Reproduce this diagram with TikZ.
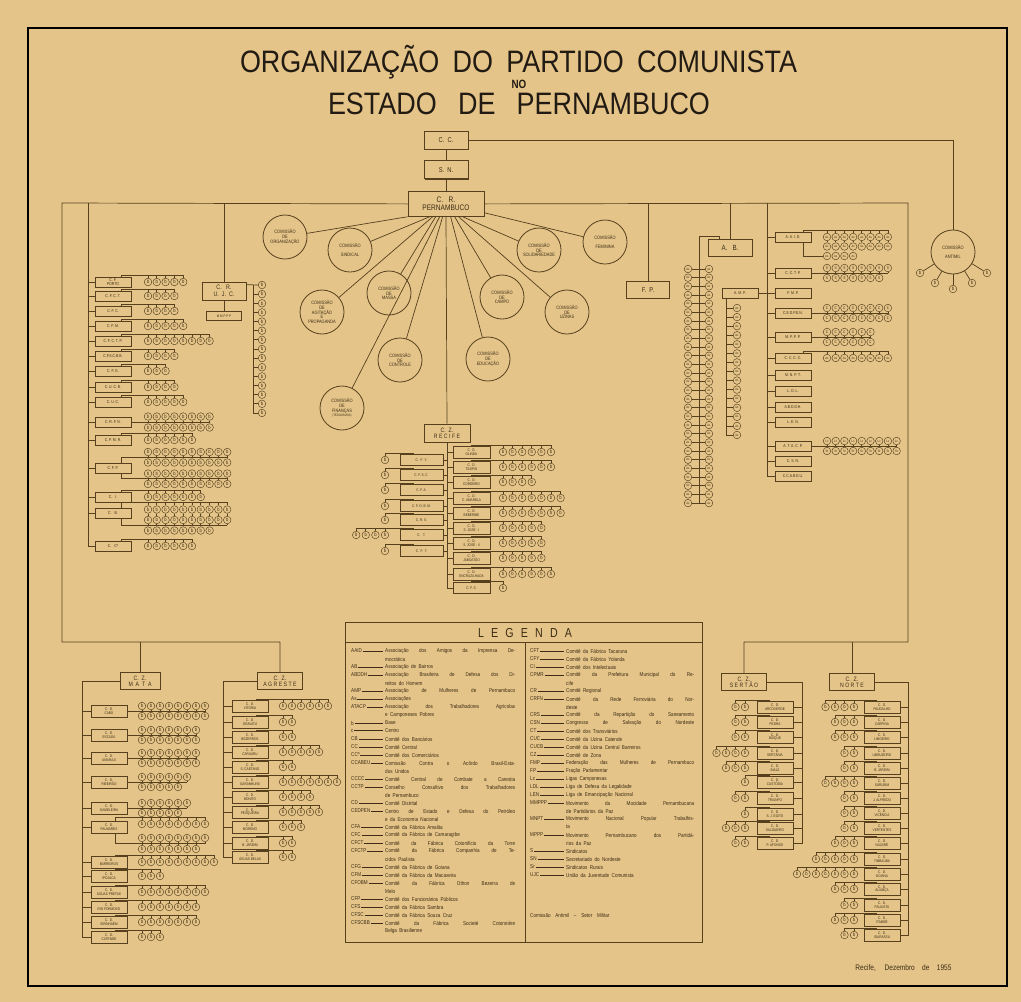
\documentclass[tikz,border=0pt]{standalone}
\usepackage{fontspec}
\setmainfont{Liberation Sans}[FakeStretch=0.82]
\newfontfamily\titlefont{Liberation Sans}[FakeStretch=0.87]
\usetikzlibrary{positioning, calc, shadows}

\definecolor{paper}{RGB}{228,196,136}
\definecolor{ink}{RGB}{86,64,30}
\definecolor{inktext}{RGB}{60,44,22}
\definecolor{titleink}{RGB}{34,27,20}

\newcommand{\fsz}[1]{\fontsize{#1}{#1}\selectfont}
\newcommand{\ldash}{\leaders\hrule height 2.1pt depth -1.6pt\hfill}

% rows and columns of small circles, and their combs
\newcommand{\brow}[6]{\foreach \i in {1,...,#4}{\node[bnode] (#1-\i) at ({#2+(\i-1)*#5},#3) {#6};}}
\newcommand{\bcol}[6]{\foreach \i in {1,...,#4}{\node[bnode] (#1-\i) at (#2,{#3+(\i-1)*#5}) {#6};}}
\newcommand{\comb}[4]{%
  \draw[wire] (#1) |- ($(#2-#4.north)+(0,-3)$) -- (#2-#4.north);
  \foreach \i in {1,...,#3}{\draw[wire] (#2-\i.north) -- ++(0,-3);}}
\newcommand{\pairline}[5]{%
  \path ($(#2-1.south)!0.5!(#3-1.north)$) coordinate (pm);
  \draw[wire] (#1) |- (pm -| #2-#4);
  \foreach \i in {1,...,#4}{\draw[wire] (#2-\i.south) -- (#2-\i.south |- pm);}
  \foreach \i in {1,...,#5}{\draw[wire] (#3-\i.north) -- (#3-\i.north |- pm);}}

\tikzset{
  wire/.style={draw=ink, line width=0.7pt},
  unit/.style={draw=ink, fill=paper, line width=0.7pt,
    minimum width=36pt, minimum height=10pt, inner sep=0pt,
    text=inktext, font=\fsz{4.2}, align=center,
    drop shadow={shadow xshift=0.8pt, shadow yshift=-0.8pt, fill=ink, opacity=1}},
  cdbox/.style={unit, minimum height=12pt, font=\fsz{3.8}},
  zonebox/.style={unit, minimum width=44pt, minimum height=17pt, font=\fsz{6.3}},
  topbox/.style={unit, minimum width=44pt, minimum height=18pt, font=\fsz{7}},
  comm/.style={circle, draw=ink, line width=0.8pt, minimum size=44pt,
    inner sep=0pt, text=inktext, font=\fsz{4.8}, align=center},
  bnode/.style={circle, draw=ink, fill=paper, line width=0.45pt,
    minimum size=7.6pt, inner sep=0pt, text=inktext, font=\fsz{5}},
  legtxt/.style={anchor=west, inner sep=0pt, text=inktext,
    font={\fsz{5.6}\spaceskip=2.4pt plus 3pt}},
}

\begin{document}
\begin{tikzpicture}[x=1pt, y=-1pt]
% paper and frame
\fill[paper] (0,0) rectangle (1021,1002);
\draw[line width=2.8pt] (28,28) rectangle (1007,986);

% title
\node[text=titleink, font=\titlefont\fsz{31}] (title) at (518.5,62)
  {\makebox[557pt][s]{ORGANIZAÇÃO DO PARTIDO COMUNISTA}};
\node[text=titleink, font=\bfseries\fsz{12}] (titleno) at (519,84) {NO};
\node[text=titleink, font=\titlefont\fsz{31}] (titlestate) at (519,104)
  {\makebox[382pt][s]{ESTADO DE PERNAMBUCO}};

% top of the party
\node[topbox] (cc) at (446,140) {C. \ C.};
\node[topbox, below=11pt of cc] (sn) {S. \ N.};
\node[topbox, minimum width=76pt, minimum height=25pt, font=\fsz{8},
      below=12pt of sn] (crpe) {C. \ \ R.\\PERNAMBUCO};
\draw[wire] (cc) -- (sn);
\draw[wire] (sn) -- (crpe);
\coordinate (tl) at (62,203);
\coordinate (tr) at (908,203);
\coordinate (bl) at (62,642);
\coordinate (br) at (908,642);

% comissao antimil
\node[comm] (antimil) at (953,252) {COMISSÃO\\[4pt]ANTIMIL};
\draw[wire] (cc.east) -| (antimil.north);
\node[bnode] (mil1) at (920,273) {b};
\node[bnode] (mil2) at (935,283) {b};
\node[bnode] (mil3) at (953,289) {b};
\node[bnode] (mil4) at (972,283) {b};
\node[bnode] (mil5) at (987,273) {b};
\foreach \k in {1,...,5}{\draw[wire] (antimil) -- (mil\k);}

% comissoes of the C.R.
\node[comm] (corg) at (285,237) {COMISSÃO\\DE\\ORGANIZAÇÃO};
\node[comm] (csind) at (350,250) {COMISSÃO\\[4pt]SINDICAL};
\node[comm] (cagit) at (322,312) {COMISSÃO\\DE\\AGITAÇÃO\\E\\PROPAGANDA};
\node[comm] (cmassa) at (389,293) {COMISSÃO\\DE\\MASSA};
\node[comm] (ccontr) at (400,360) {COMISSÃO\\DE\\CONTROLE};
\node[comm] (cfin) at (342,408) {COMISSÃO\\DE\\FINANÇAS\\{\fsz{3.3}(TEZOURARIA)}};
\node[comm] (ceduc) at (488,359) {COMISSÃO\\DE\\EDUCAÇÃO};
\node[comm] (ccampo) at (502,297) {COMISSÃO\\DE\\CAMPO};
\node[comm] (cuzin) at (567,312) {COMISSÃO\\DE\\UZINAS};
\node[comm] (csolid) at (539,250) {COMISSÃO\\DE\\SOLIDARIEDADE};
\node[comm] (cfem) at (605,242) {COMISSÃO\\[4pt]FEMININA};
\draw[wire] (crpe.south west) -- (corg);
\draw[wire] ($(crpe.south east)+(0,-4)$) -- (cfem);
\foreach \c/\dx in {csind/22, cagit/25, cmassa/28, cfin/32, ccontr/35,
                    ceduc/43, ccampo/47, cuzin/51, csolid/55}
  {\draw[wire] ($(crpe.south west)+(\dx,0)$) -- (\c);}

% C.Z. Recife
\node[zonebox, minimum width=46pt, minimum height=18pt] (czrecife) at (447,433)
  {C. \ Z.\\R E C I F E};
\draw[wire] (crpe.south) -- (czrecife.north);
\foreach \nm/\lab/\yy/\cnt in {olinda/OLINDA/452/6, tejipio/TEJIPIO/467/6,
    cordeiro/CORDEIRO/482/4, camarela/{C. AMARELA}/498/7, beberibe/BEBERIBE/513/7,
    sjosei/{S. JOSÉ - I}/528/5, sjoseii/{S. JOSÉ - II}/543/5,
    jaboatao/JABOATÃO/558/5, encruz/ENCRUZILHADA/574/6}
{
  \node[cdbox, minimum width=37pt] (\nm) at (471.5,\yy) {C. \ D.\\\lab};
  \brow{\nm-b}{503}{\yy}{\cnt}{9.6}{b}
  \comb{$(\nm.north)$}{\nm-b}{\cnt}{\cnt}
  \draw[wire] (\nm.west -| czrecife.south) -- (\nm.west);
}
\node[cdbox, minimum width=37pt, minimum height=11pt] (cfs) at (471.5,588) {C. F. S.};
\brow{cfs-b}{503}{588}{1}{9.6}{b}
\comb{$(cfs.north)$}{cfs-b}{1}{1}
\draw[wire] (czrecife.south) |- (cfs.west);
\foreach \nm/\lab/\yy/\cnt in {cfy/{C. \ F. \ Y.}/460/1, cfsc/{C. F. S. C.}/475/1,
    cfa/{C. F. A.}/490/1, cfobm/{C. F. O. B. M.}/506/1, crs/{C. R. S.}/520/1,
    ct/{C. \ \ T.}/535/4, cft/{C. \ F. \ T.}/551/1}
{
  \node[cdbox, minimum width=43pt, minimum height=11pt] (\nm) at (421.5,\yy) {\lab};
  \brow{\nm-b}{385-(\cnt-1)*9.6}{\yy}{\cnt}{9.6}{b}
  \comb{$(\nm.north)+(-8,0)$}{\nm-b}{\cnt}{1}
  \draw[wire] (\nm.east) -- (\nm.east -| czrecife.south);
}

% left column of committees
\coordinate (ltk) at (88,203);
\foreach \nm/\lab/\yy/\cnt in {cfporto/{C. F.\\[-0.6pt]PORTO}/282/5, cfct/{C. F. C. T.}/296/4,
    cfc/{C. F. C.}/311/4, cfm/{C. F. M.}/326/5, cfctp/{C. F. C. T. P.}/341/8,
    cfscbb/{C.F.S.C.B.B.}/356/4, cfg/{C. F. G.}/371/3, cucb/{C. U. C. B.}/387/4,
    cuc/{C. U. C.}/402/5, cpmr/{C. P. M. R.}/440/6, ci/{C. \ \ I.}/497/7,
    ccom/{C. \ \ Cº}/546/6}
{
  \node[unit] (\nm) at (113,\yy) {\lab};
  \brow{\nm-b}{148}{\yy}{\cnt}{8.8}{b}
  \comb{$(\nm.north)+(8,0)$}{\nm-b}{\cnt}{\cnt}
  \draw[wire] (\nm.west -| ltk) -- (\nm.west);
}
\node[unit] (crfn) at (113,422) {C. R. F. N.};
\brow{crfn-t}{148}{416.5}{8}{8.8}{b}
\brow{crfn-u}{148}{427.5}{8}{8.8}{b}
\pairline{crfn.east}{crfn-t}{crfn-u}{8}{8}
\node[unit] (cfp) at (113,468) {C. F. P.};
\brow{cfp-r1}{148}{452}{10}{8.8}{b}
\brow{cfp-r2}{148}{462.5}{10}{8.8}{b}
\brow{cfp-r3}{148}{473.5}{10}{8.8}{b}
\brow{cfp-r4}{148}{484}{10}{8.8}{b}
\pairline{$(cfp.north)+(8,0)$}{cfp-r1}{cfp-r2}{10}{10}
\pairline{$(cfp.south)+(8,0)$}{cfp-r3}{cfp-r4}{10}{10}
\node[unit] (cb) at (113,513) {C. \ \ B.};
\brow{cb-r1}{148}{509.5}{10}{8.8}{b}
\brow{cb-r2}{148}{520}{10}{8.8}{b}
\brow{cb-r3}{148}{530.5}{8}{8.8}{b}
\comb{$(cb.north)+(8,0)$}{cb-r1}{10}{10}
\pairline{$(cb.south)+(8,0)$}{cb-r2}{cb-r3}{10}{8}
\foreach \i in {1,...,10}{\draw[wire] (cb-r1-\i) -- (cb-r2-\i);}
\draw[wire] (ltk) |- (ccom.west);
\foreach \nm in {crfn, cfp, cb}{\draw[wire] (\nm.west -| ltk) -- (\nm.west);}

% C.R. U.J.C.
\node[topbox, font=\fsz{6.5}] (crujc) at (224,291) {C. \ \ R.\\U. \ J. \ C.};
\draw[wire] (crujc.north) -- (crujc.north |- ltk);
\node[unit, minimum width=35pt, minimum height=9pt, font=\fsz{3.6}] (mmppp) at (224,316) {M M P P P};
\draw[wire] (crujc) -- (mmppp);
\bcol{ujc}{262}{285}{15}{9.14}{b}
\path (crujc.north east) ++(0,3) coordinate (ujcs);
\coordinate (ujct) at (253,285);
\draw[wire] (ujcs) -- (ujc-1.west);
\draw[wire] (ujct) -- (ujct |- ujc-15);
\foreach \i in {2,...,15}{\draw[wire] (ujct |- ujc-\i) -- (ujc-\i.west);}

% F.P. and A.B.
\node[zonebox, minimum width=43pt, font=\fsz{7}] (fp) at (648,290) {F. \ P.};
\draw[wire] (fp.north) -- (fp.north |- tr);
\node[zonebox, font=\fsz{7.5}] (ab) at (730,248) {A. \ \ B.};
\draw[wire] (ab.north) -- (ab.north |- tr);
\bcol{asl}{688}{269}{28}{8.67}{\fsz{3.2}As}
\bcol{asr}{709}{269}{28}{8.67}{\fsz{3.2}As}
\coordinate (abt) at (699,236);
\draw[wire] ($(ab.north west)+(12,0)$) |- (abt) -- (abt |- asl-28);
\foreach \i in {1,...,28}{\draw[wire] (asl-\i) -- (asr-\i);}
\node[unit] (amp) at (740,293) {A. M. P.};
\bcol{amp-b}{737}{308}{15}{9.07}{\fsz{3.2}As}
\path ($(amp.south west)+(5,0)$) coordinate (ampt);
\draw[wire] (ampt) |- (amp-b-15.west);
\foreach \i in {1,...,14}{\draw[wire] (amp-b-\i.west -| ampt) -- (amp-b-\i.west);}

% associations of the right trunk
\coordinate (rtk) at (767,203);
\foreach \nm/\lab/\yy in {aaid/{A. A. I. D.}/237, cctp/{C. C. T. P.}/273, fmp/{F. M. P.}/293,
    cedpen/{C.E.D.P.E.N.}/313, mppp/{M. P. P. P.}/337, cccc/{C. C. C. C.}/358,
    mnpt/{M. N. P. T.}/375, ldl/{L. D. L.}/391, abddh/{A.B.D.D.H.}/407,
    len/{L. E. N.}/422, atacp/{A. T. A. C. P.}/446, csn/{C. S. N.}/461,
    ccabeu/{C.C.A.B.E.U.}/476}
{
  \node[unit] (\nm) at (793,\yy) {\lab};
  \draw[wire] (\nm.west -| rtk) -- (\nm.west);
}
\draw[wire] (rtk) |- (ccabeu.west);
\draw[wire] (amp.east) -- (fmp.west);
\brow{aaid-r1}{827}{237}{8}{8.7}{\fsz{3.2}As}
\brow{aaid-r2}{827}{246.5}{8}{8.7}{\fsz{3.2}As}
\brow{aaid-r3}{827}{256}{4}{8.7}{\fsz{3.2}As}
\comb{$(aaid.north)+(10,0)$}{aaid-r1}{8}{8}
\foreach \i in {1,...,8}{\draw[wire] (aaid-r1-\i) -- (aaid-r2-\i);}
\draw[wire] ($(aaid.south)+(10,0)$) |- (aaid-r3-1.west);
\brow{cctp-t}{827}{268}{8}{8.7}{\fsz{4}S}
\brow{cctp-u}{827}{278}{7}{8.7}{\fsz{4}S}
\pairline{cctp.east}{cctp-t}{cctp-u}{8}{7}
\brow{cedpen-t}{827}{308}{8}{8.7}{c}
\brow{cedpen-u}{827}{318}{8}{8.7}{c}
\pairline{cedpen.east}{cedpen-t}{cedpen-u}{8}{8}
\brow{mppp-t}{827}{332}{6}{8.7}{c}
\brow{mppp-u}{827}{342}{6}{8.7}{c}
\pairline{mppp.east}{mppp-t}{mppp-u}{6}{6}
\brow{cccc-b}{827}{358}{8}{8.7}{\fsz{3.2}As}
\comb{$(cccc.north)+(10,0)$}{cccc-b}{8}{8}
\brow{atacp-t}{827}{441}{9}{8.7}{\fsz{3.4}Lc}
\brow{atacp-u}{827}{451}{9}{8.7}{\fsz{3.4}Sr}
\pairline{atacp.east}{atacp-t}{atacp-u}{9}{9}

% C.Z. Mata
\node[zonebox, minimum width=40pt] (czmata) at (140,681) {C. \ Z.\\M \ A \ T \ A};
\coordinate (mtk) at (82,681);
\foreach \nm/\lab/\yy in {cabo/CABO/711, escada/ESCADA/735, amaraji/AMARAJI/758,
    ribeirao/RIBEIRÃO/782, gameleira/GAMELEIRA/808, palmares/PALMARES/827,
    barreiros/BARREIROS/862, ipojuca/IPOJUCA/876, aguaspretas/{ÁGUAS PRETAS}/892,
    rioformoso/{RIO FORMOSO}/907, sirinhaem/SIRINHAÉM/922, catende/CATENDE/937}
{
  \node[cdbox] (\nm) at (109,\yy) {C. \ D.\\\lab};
  \draw[wire] (\nm.west -| mtk) -- (\nm.west);
}
\draw[wire] (czmata.west) -- (mtk) |- (catende.west);
\foreach \nm/\yy/\cnt/\cntb in {cabo/711/8/8, escada/735/7/7, amaraji/758/7/7,
    ribeirao/782/6/5, gameleira/808/6/5}
{
  \brow{\nm-t}{142}{\yy-5}{\cnt}{9}{b}
  \brow{\nm-u}{142}{\yy+5}{\cntb}{9}{b}
  \pairline{\nm.east}{\nm-t}{\nm-u}{\cnt}{\cntb}
}
\brow{palmares-b}{142}{824}{8}{9}{b}
\comb{$(palmares.north)+(6,0)$}{palmares-b}{8}{8}
\brow{palmares-t}{142}{838}{8}{9}{b}
\brow{palmares-u}{142}{849}{7}{9}{b}
\pairline{$(palmares.south)+(6,0)$}{palmares-t}{palmares-u}{8}{7}
\foreach \nm/\yy/\cnt in {barreiros/862/9, ipojuca/876/3, aguaspretas/892/8,
    rioformoso/907/7, sirinhaem/922/7, catende/937/3}
{
  \brow{\nm-b}{142}{\yy}{\cnt}{9}{b}
  \comb{$(\nm.north)+(6,0)$}{\nm-b}{\cnt}{\cnt}
}

% C.Z. Agreste
\node[zonebox, minimum width=45pt] (czagreste) at (280,681) {C. \ Z.\\A G R E S T E};
\coordinate (atk) at (223,681);
\foreach \nm/\lab/\yy/\cnt in {vitoria/VITÓRIA/706/6, gravata/GRAVATÁ/722/2,
    bezerros/BEZERROS/737/2, caruaru/CARUARU/752/5, scaetano/{S. CAETANO}/767/2,
    garanhuns/GARANHUNS/782/7, bonito/BONITO/797/4, pesqueira/PESQUEIRA/812/5,
    moreno/MORENO/827/3, bjardim/{B. JARDIM}/843/2, aguasbelas/{ÁGUAS BELAS}/857/2}
{
  \node[cdbox] (\nm) at (250,\yy) {C. \ D.\\\lab};
  \draw[wire] (\nm.west -| atk) -- (\nm.west);
  \brow{\nm-b}{283}{\yy}{\cnt}{9}{b}
  \comb{$(\nm.north)+(6,0)$}{\nm-b}{\cnt}{\cnt}
}
\draw[wire] (czagreste.west) -- (atk) |- (aguasbelas.west);

% C.Z. Sertao
\node[zonebox, minimum width=45pt] (czsertao) at (744,682) {C. \ Z.\\S E R T Ã O};
\coordinate (stk) at (802,682);
\foreach \nm/\lab/\yy/\cnt in {arcoverde/ARCOVERDE/707/2, pedra/PEDRA/722/2,
    buique/BUÍQUE/737/2, sertania/SERTÂNIA/753/4, inaja/INAJÁ/768/3,
    custodia/CUSTÓDIA/782/1, triunfo/TRIUNFO/798/2, sjegito/{S. J. EGITO}/814/1,
    salgueiro/SALGUEIRO/828/3, pafonso/{P. AFONSO}/843/2}
{
  \node[cdbox] (\nm) at (775,\yy) {C. \ D.\\\lab};
  \draw[wire] (\nm.east) -- (\nm.east -| stk);
  \brow{\nm-b}{745-(\cnt-1)*9.5}{\yy}{\cnt}{9.5}{b}
  \comb{$(\nm.north)+(-6,0)$}{\nm-b}{\cnt}{1}
}
\draw[wire] (czsertao.east) -- (stk) |- (pafonso.east);

% C.Z. Norte
\node[zonebox, minimum width=45pt] (cznorte) at (852,682) {C. \ Z.\\N O R T E};
\coordinate (ntk) at (908,682);
\foreach \nm/\lab/\yy/\cnt in {paudalho/PAUDALHO/707/4, carpina/CARPINA/722/3,
    limoeiro/LIMOEIRO/737/3, umbuzeiro/UMBUZEIRO/753/2, bjardimn/{B. JARDIM}/768/2,
    surubim/SURUBIM/783/4, jalfredo/{J. ALFREDO}/798/2, vicencia/VICÊNCIA/813/2,
    vertentes/VERTENTES/828/2, nazare/NAZARÉ/843/3, timbauba/TIMBAÚBA/859/5,
    goiana/GOIANA/874/7, alianca/ALIANÇA/889/3, paulista/PAULISTA/905/2,
    itambe/ITAMBÉ/920/3, igarassu/IGARASSU/935/2}
{
  \node[cdbox] (\nm) at (882,\yy) {C. \ D.\\\lab};
  \draw[wire] (\nm.east) -- (\nm.east -| ntk);
  \brow{\nm-b}{854-(\cnt-1)*9.5}{\yy}{\cnt}{9.5}{b}
  \comb{$(\nm.north)+(-6,0)$}{\nm-b}{\cnt}{1}
}
\draw[wire] (cznorte.east) -- (ntk) |- (igarassu.east);

% the big frame of lines
\draw[wire] (crpe.west) -- (tl) -- (bl) -| (czagreste.north);
\draw[wire] (bl -| czmata.north) -- (czmata.north);
\draw[wire] (crpe.east) -- (tr) -- (br) -| (czsertao.north);
\draw[wire] (br -| cznorte.north) -- (cznorte.north);

% legenda
\node[draw=ink, line width=0.8pt, minimum width=357pt, minimum height=320pt,
      inner sep=0pt] (legend) at (523.5,782) {};
\path (legend.north west) ++(0,21) coordinate (lsep);
\draw[wire] (lsep) -- (lsep -| legend.east);
\coordinate (ldiv) at (525,643);
\draw[wire] (ldiv) -- (ldiv |- legend.south);
\node[text=inktext, font=\fsz{13}] (legtitle) at (525,633) {\makebox[94pt][s]{L E G E N D A}};
\foreach \ab/\k in {AAID/1, AB/3, ABDDH/4, AMP/6, As/7, ATACP/8, b/10, c/11, CB/12,
    CC/13, CCº/14, CCABEU/15, CCCC/17, CCTP/18, CD/20, CEDPEN/21, CFA/23, CFC/24,
    CFCT/25, CFCTP/26, CFG/28, CFM/29, CFOBM/30, CFP/32, CFS/33, CFSC/34, CFSCBB/35}
  {\node[legtxt] (labl\k) at (351,{651+(\k-1)*8}) {\makebox[33pt][l]{\ab\,\ldash\,}};}
\foreach \ltext/\lmode [count=\k] in {
    Associação dos Amigos da Imprensa De-/f, mocrática/n, Associação de Bairros/n,
    Associação Brasileira de Defesa dos Di-/f, reitos do Homem/n,
    Associação de Mulheres de Pernambuco/f, Associações/n,
    Associação dos Trabalhadores Agrícolas/f, e Camponeses Pobres/n, Base/n,
    Centro/n, Comitê dos Bancários/n, Comitê Central/n, Comitê dos Comerciários/n,
    Comissão Contra o Acôrdo Brasil-Esta-/f, dos Unidos/n,
    Comitê Central de Combate a Carestia/f, Conselho Consultivo dos Trabalhadores/f,
    de Pernambuco/n, Comitê Distrital/n, Centro de Estado e Defesa do Petróleo/f,
    e da Economia Nacional/n, Comitê da Fábrica Amalita/n,
    Comitê da Fábrica de Camaragibe/n, Comitê da Fábrica Cotonifício da Torre/f,
    Comitê da Fábrica Companhia de Te-/f, cidos Paulista/n,
    Comitê da Fábrica de Goiana/n, Comitê da Fábrica da Macaxeira/n,
    Comitê da Fábrica Othon Bezerra de/f, Melo/n, Comitê dos Funcionários Públicos/n,
    Comitê da Fábrica Sambra/n, Comitê da Fábrica Souza Cruz/n,
    Comitê da Fábrica Societé Cotonnière/f, Belga Brasilienne/n}
  {\node[legtxt] (legl\k) at (385,{651+(\k-1)*8})
     {\if\lmode f\makebox[130pt][s]{\ltext}\else\ltext\fi};}
\foreach \ab/\k in {CFT/1, CFY/2, CI/3, CPMR/4, CR/6, CRFN/7, CRS/9, CSN/10, CT/11,
    CUC/12, CUCB/13, CZ/14, FMP/15, FP/16, Lc/17, LDL/18, LEN/19, MMPPP/20,
    MNPT/22, MPPP/24, S/26, SN/27, Sr/28, UJC/29}
  {\node[legtxt] (labr\k) at (530,{651+(\k-1)*8}) {\makebox[35pt][l]{\ab\,\ldash\,}};}
\foreach \ltext/\lmode [count=\k] in {
    Comitê da Fábrica Tacaruna/n, Comitê da Fábrica Yolanda/n,
    Comitê dos Intelectuais/n, Comitê da Prefeitura Municipal do Re-/f, cife/n,
    Comitê Regional/n, Comitê da Rede Ferroviária do Nor-/f, deste/n,
    Comitê da Repartição do Saneamento/f, Congresso de Salvação do Nordeste/f,
    Comitê dos Transviários/n, Comitê da Uzina Catende/n,
    Comitê da Uzina Central Barreiros/n, Comitê de Zona/n,
    Federação das Mulheres de Pernambuco/f, Fração Parlamentar/n,
    Ligas Camponesas/n, Liga de Defesa da Legalidade/n,
    Liga de Emancipação Nacional/n, Movimento da Mocidade Pernambucana/f,
    de Partidários da Paz/n, Movimento Nacional Popular Trabalhis-/f, ta/n,
    Movimento Pernambucano dos Partidá-/f, rios da Paz/n, Sindicatos/n,
    Secretariado do Nordeste/n, Sindicatos Rurais/n, União da Juventude Comunista/n}
  {\node[legtxt] (legr\k) at (566,{651+(\k-1)*8})
     {\if\lmode f\makebox[128pt][s]{\ltext}\else\ltext\fi};}
\node[legtxt] (legmil) at (530,915) {Comissão \ Antimil \ -- \ Setor \ Militar};

% place and date
\node[text=inktext, font=\fsz{8}, anchor=east] (place) at (955,968)
  {\makebox[96pt][s]{Recife, Dezembro de 1955}};
\end{tikzpicture}
\end{document}
